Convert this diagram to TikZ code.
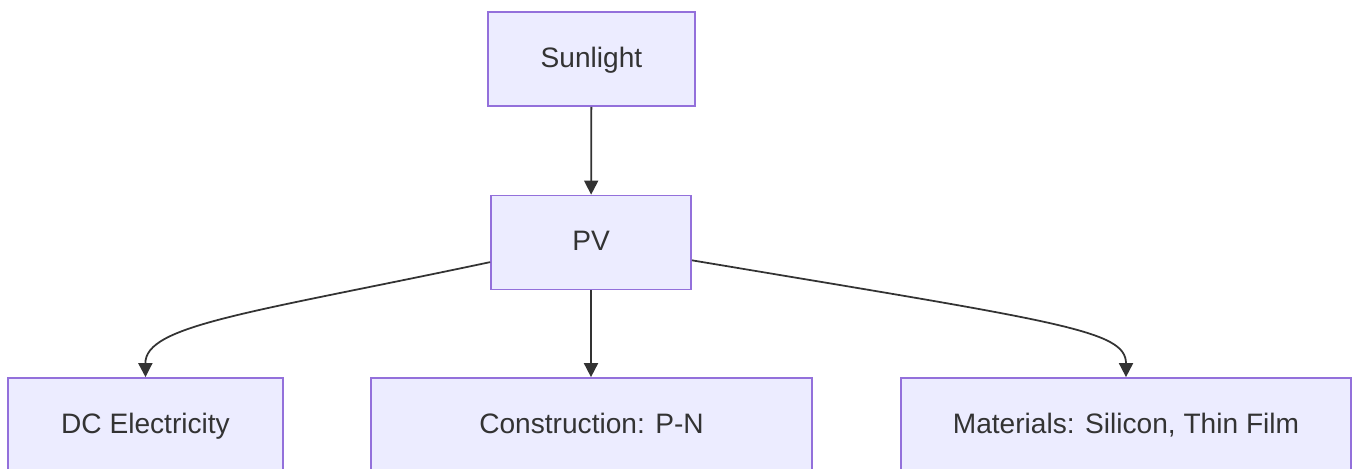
\documentclass[tikz,border=0pt]{standalone}
\usepackage{fontspec}
\setmainfont{Liberation Sans}
\usetikzlibrary{arrows.meta}
\definecolor{boxfill}{HTML}{ECECFF}
\definecolor{boxline}{HTML}{9370DB}
\definecolor{ink}{HTML}{333333}

\begin{document}
\begin{tikzpicture}[x=0.02cm, y=-0.02cm,
    box/.style={draw=boxline, fill=boxfill, line width=1pt, text=ink, font=\fontsize{16}{19}\selectfont, minimum height=1.88cm, inner sep=0pt, text height=1.05em, text depth=0.1em},
    link/.style={draw=ink, line width=1pt, -{Triangle[length=8pt,width=8pt]}}]
    \useasboundingbox (0,0) rectangle (1355,468);
    \node[box, minimum width=4.14cm] (sun) at (591.5,59) {Sunlight};
    \node[box, minimum width=4cm] (pv) at (591,242.5) {PV};
    \node[box, minimum width=5.5cm] (dc) at (145.5,425) {DC Electricity};
    \node[box, minimum width=8.82cm] (pn) at (591.5,425) {Construction: P-N};
    \node[box, minimum width=9cm] (mat) at (1126,425) {Materials: Silicon, Thin Film};
    \draw[link] (sun) -- (pv);
    \draw[link] (pv.south) -- (pv.south |- pn.north);
    \draw[link] (pv.191.6) .. controls (250,313) and (145,325) .. (dc.north);
    \draw[link] (pv.-10) .. controls (1060,322) and (1126,330) .. (mat.north);
\end{tikzpicture}
\end{document}
